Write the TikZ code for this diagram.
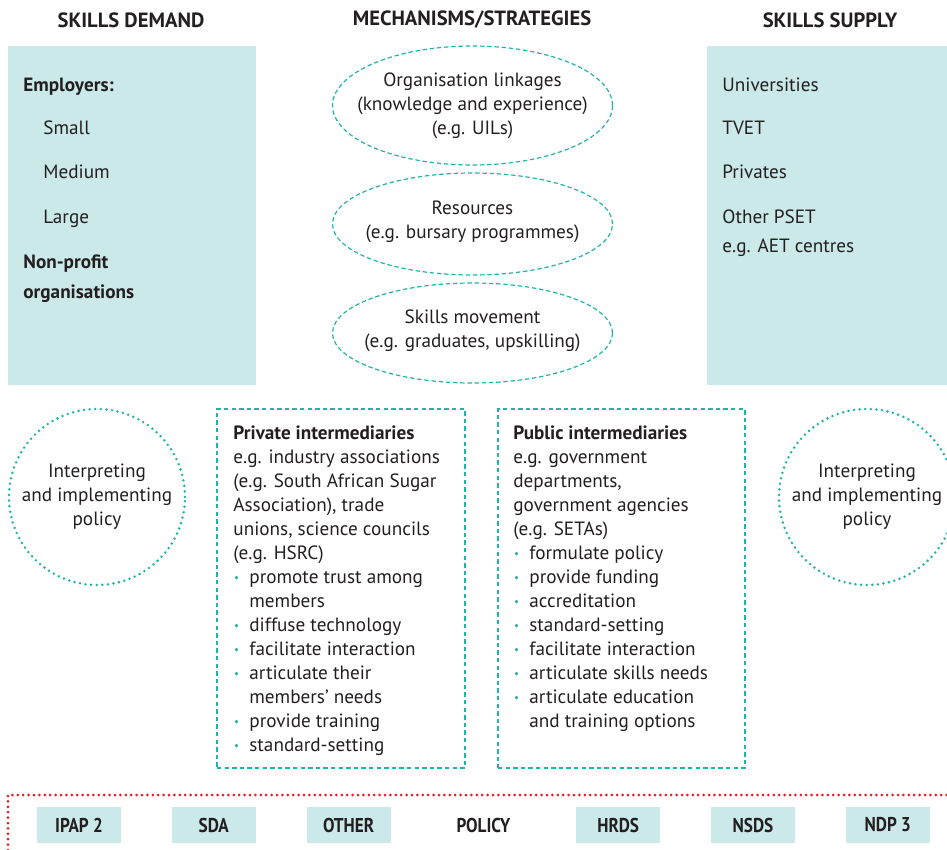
\documentclass[tikz,border=0pt]{standalone}
\usepackage{fontspec}
\setmainfont{PT Sans}
\newfontfamily\narrowfont[FakeStretch=0.86]{PT Sans}
\usetikzlibrary{positioning,shapes.geometric}
\definecolor{tealfill}{HTML}{CBE9E9}
\definecolor{tealline}{HTML}{22B2AC}
\definecolor{policyred}{HTML}{EC1C24}
\definecolor{inkgrey}{HTML}{231F20}
\newcommand{\basefont}{\fontsize{9.6pt}{12pt}\selectfont}
\newcommand{\bul}{\makebox[8pt][l]{\hspace{0.4pt}\textcolor{tealline}{\raisebox{0.9pt}{\fontsize{5.5pt}{5.5pt}\selectfont •}}}}
\newcommand{\ind}{\hspace*{8pt}}
\tikzset{
  headtext/.style={font=\fontsize{10.3pt}{12pt}\selectfont\bfseries, inner sep=0},
  sidebox/.style={fill=tealfill, minimum width=124pt, minimum height=169.5pt, inner sep=0},
  listrow/.style={anchor=west, inner sep=0, text height=7.4pt, text depth=2.2pt},
  mechoval/.style={ellipse, draw=tealline, dash pattern=on 2.2pt off 1.4pt, line width=0.6pt, minimum width=140pt, inner sep=0},
  policyring/.style={circle, draw=tealline, dash pattern=on 0pt off 2.8pt, line cap=round, line width=1.4pt, minimum size=88pt, inner sep=0},
  interbox/.style={draw=tealline, dash pattern=on 2.2pt off 1.6pt, line width=0.6pt, minimum width=124pt, minimum height=179.5pt, inner sep=0},
  policybox/.style={fill=tealfill, minimum width=42pt, minimum height=18pt, inner sep=0, font=\fontsize{10pt}{12pt}\narrowfont\bfseries},
  policyline/.style={draw=policyred, line width=1.5pt, dash pattern=on 0pt off 2.7pt, line cap=round}
}
\begin{document}
\begin{tikzpicture}[x=0.5pt, y=-0.5pt, every node/.style={font=\basefont, text=inkgrey}]
\useasboundingbox (0,0) rectangle (947,850);

\node[headtext] (demandhead) at (131,20) {SKILLS DEMAND};
\node[headtext] (mechhead) at (472,20) {MECHANISMS/STRATEGIES};
\node[headtext] (supplyhead) at (830,20) {SKILLS SUPPLY};

\node[sidebox] (demand) at (132,215.5) {};
\node[sidebox, minimum width=120pt] (supply) at (827,215.5) {};
\foreach \x/\y/\txt [count=\i] in {23/86/{\bfseries Employers:}, 43/129/Small, 43/173/Medium, 43/218/Large, 23/263/{\bfseries Non-profit}, 23/293/{\bfseries organisations}}
  \node[listrow] (demand-\i) at (\x,\y) {\txt};
\foreach \y/\txt [count=\i] in {86/Universities, 129/TVET, 173/Privates, 218/Other PSET, 247/e.g. AET centres}
  \node[listrow] (supply-\i) at (722,\y) {\txt};

\node[mechoval, minimum height=59.5pt] (linkages) at (472.5,105.5) {};
\node[align=center, inner sep=0] (linkages-text) at (linkages) {Organisation linkages\\(knowledge and experience)\\(e.g. UILs)};
\node[mechoval, minimum height=51pt] (resources) at (472.5,224) {};
\node[align=center, inner sep=0] (resources-text) at (472.5,222) {Resources\\(e.g. bursary programmes)};
\node[mechoval, minimum height=50pt] (movement) at (472.5,333) {};
\node[align=center, inner sep=0] (movement-text) at (472.5,330.5) {Skills movement\\(e.g. graduates, upskilling)};

\node[policyring] (interpL) at (97,497) {};
\node[align=center, inner sep=0] (interpL-text) at (interpL) {Interpreting\\and implementing\\policy};
\node[policyring] (interpR) at (867,497) {};
\node[align=center, inner sep=0] (interpR-text) at (interpR) {Interpreting\\and implementing\\policy};

\node[interbox] (private) at (341,588.5) {};
\foreach \txt [count=\i from 0] in {{\bfseries Private intermediaries}, e.g. industry associations, {(e.g. South African Sugar}, {Association), trade}, {unions, science councils}, {(e.g. HSRC)}, \bul promote trust among, \ind members, \bul diffuse technology, \bul facilitate interaction, \bul articulate their, \ind members’ needs, \bul provide training, \bul standard-setting}
  \node[listrow] (private-\i) at (233,{434+24*\i}) {\txt};
\node[interbox, minimum width=123.5pt] (public) at (621.5,588.5) {};
\foreach \txt [count=\i from 0] in {{\bfseries Public intermediaries}, e.g. government, {departments,}, government agencies, {(e.g. SETAs)}, \bul formulate policy, \bul provide funding, \bul accreditation, \bul standard-setting, \bul facilitate interaction, \bul articulate skills needs, \bul articulate education, \ind and training options}
  \node[listrow] (public-\i) at (513,{434+24*\i}) {\txt};

\draw[policyline] (8,850) -- (8,795) -- (947,795);
\node[policybox] (ipap) at (79,825) {IPAP 2};
\node[policybox, right=25pt of ipap] (sda) {SDA};
\node[policybox, right=25pt of sda] (other) {OTHER};
\node[policybox, fill=none, right=25pt of other] (policy) {POLICY};
\node[policybox, right=25pt of policy] (hrds) {HRDS};
\node[policybox, right=25pt of hrds] (nsds) {NSDS};
\node[policybox, right=25pt of nsds] (ndp) {NDP 3};
\end{tikzpicture}
\end{document}
